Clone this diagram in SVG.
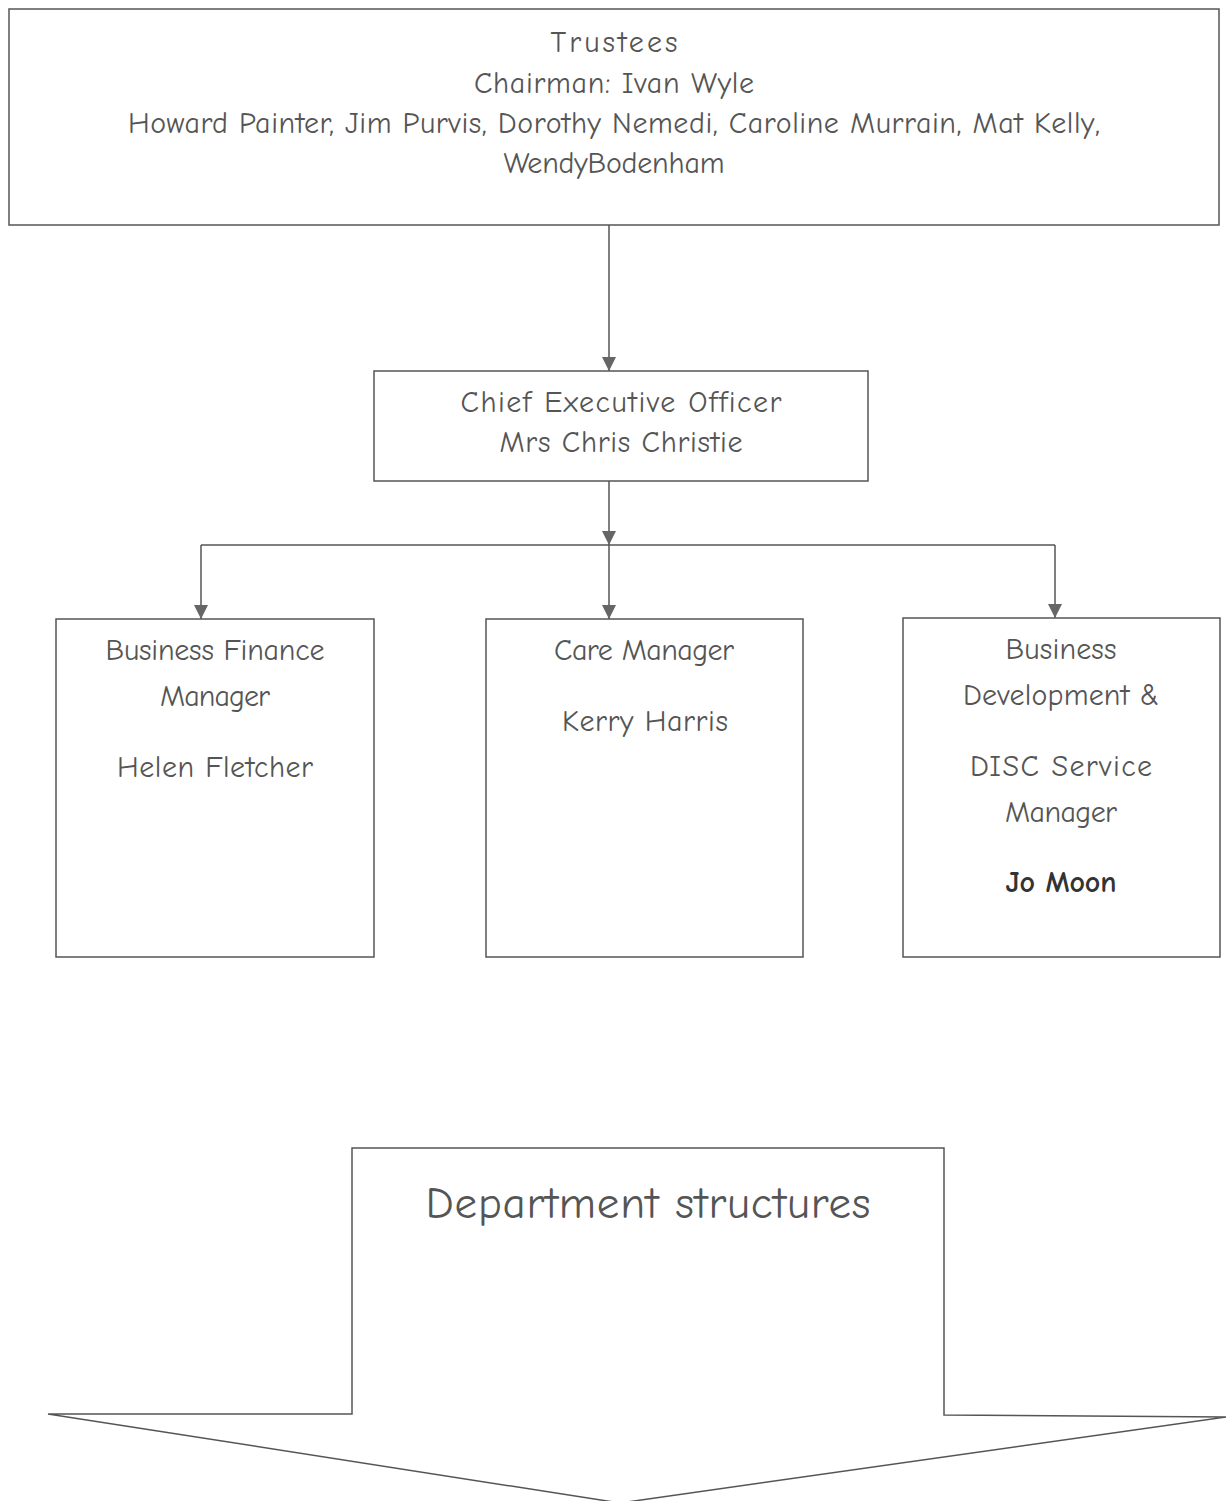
<svg xmlns="http://www.w3.org/2000/svg" width="1226" height="1501" viewBox="0 0 1226 1501">
<style>
.box{fill:none;stroke:#555;stroke-width:1.5}
.t{font-family:"Comic Sans MS","Comic Neue","Open Sans","DejaVu Sans",sans-serif;font-size:30px;fill:#555;text-anchor:middle}
.b{fill:#333;font-weight:bold}
.c{fill:none;stroke:#555;stroke-width:1.5}
</style>
<defs>
<marker id="ah" markerWidth="14" markerHeight="14" refX="14" refY="7" orient="auto" markerUnits="userSpaceOnUse" viewBox="0 0 14 14">
<path d="M0,0 L14,7 L0,14 Z" fill="#666"/>
</marker>
</defs>
<rect width="1226" height="1501" fill="#fff"/>
<g id="trustees">
<rect class="box" x="9" y="9" width="1210" height="216"/>
<text class="t" x="614" y="52" textLength="127" lengthAdjust="spacing">Trustees</text>
<text class="t" x="614" y="93" textLength="280" lengthAdjust="spacing">Chairman:  Ivan Wyle</text>
<text class="t" x="614" y="133" textLength="972" lengthAdjust="spacing">Howard Painter, Jim Purvis, Dorothy Nemedi, Caroline Murrain, Mat Kelly,</text>
<text class="t" x="614" y="173" textLength="221" lengthAdjust="spacing">WendyBodenham</text>
</g>
<g id="ceo">
<rect class="box" x="374" y="371" width="494" height="110"/>
<text class="t" x="621" y="412" textLength="321" lengthAdjust="spacing">Chief Executive Officer</text>
<text class="t" x="621" y="452" textLength="243" lengthAdjust="spacing">Mrs Chris Christie</text>
</g>
<g id="finance">
<rect class="box" x="56" y="619" width="318" height="338"/>
<text class="t" x="215" y="660" textLength="219" lengthAdjust="spacing">Business Finance</text>
<text class="t" x="215" y="706" textLength="110" lengthAdjust="spacing">Manager</text>
<text class="t" x="215" y="777" textLength="196" lengthAdjust="spacing">Helen Fletcher</text>
</g>
<g id="care">
<rect class="box" x="486" y="619" width="317" height="338"/>
<text class="t" x="644" y="660" textLength="180" lengthAdjust="spacing">Care Manager</text>
<text class="t" x="645" y="731" textLength="166" lengthAdjust="spacing">Kerry Harris</text>
</g>
<g id="development">
<rect class="box" x="903" y="618" width="317" height="339"/>
<text class="t" x="1061" y="659" textLength="111" lengthAdjust="spacing">Business</text>
<text class="t" x="1061" y="705" textLength="196" lengthAdjust="spacing">Development &amp;</text>
<text class="t" x="1061" y="776" textLength="182" lengthAdjust="spacing">DISC Service</text>
<text class="t" x="1061" y="822" textLength="112" lengthAdjust="spacing">Manager</text>
<text class="t b" x="1061" y="892" textLength="111" lengthAdjust="spacing">Jo Moon</text>
</g>
<g id="departments">
<path class="box" d="M352,1148 L944,1148 L944,1415 L1226,1417 L620,1503 L48,1414 L352,1414 Z"/>
<text class="t" x="648" y="1218" style="font-size:45px" textLength="445" lengthAdjust="spacing">Department structures</text>
</g>
<g id="connectors">
<path class="c" d="M609,225 V371" marker-end="url(#ah)"/>
<path class="c" d="M609,481 V545" marker-end="url(#ah)"/>
<path class="c" d="M201,545 H1055"/>
<path class="c" d="M201,545 V619" marker-end="url(#ah)"/>
<path class="c" d="M609,545 V619" marker-end="url(#ah)"/>
<path class="c" d="M1055,545 V618" marker-end="url(#ah)"/>
</g>
</svg>
